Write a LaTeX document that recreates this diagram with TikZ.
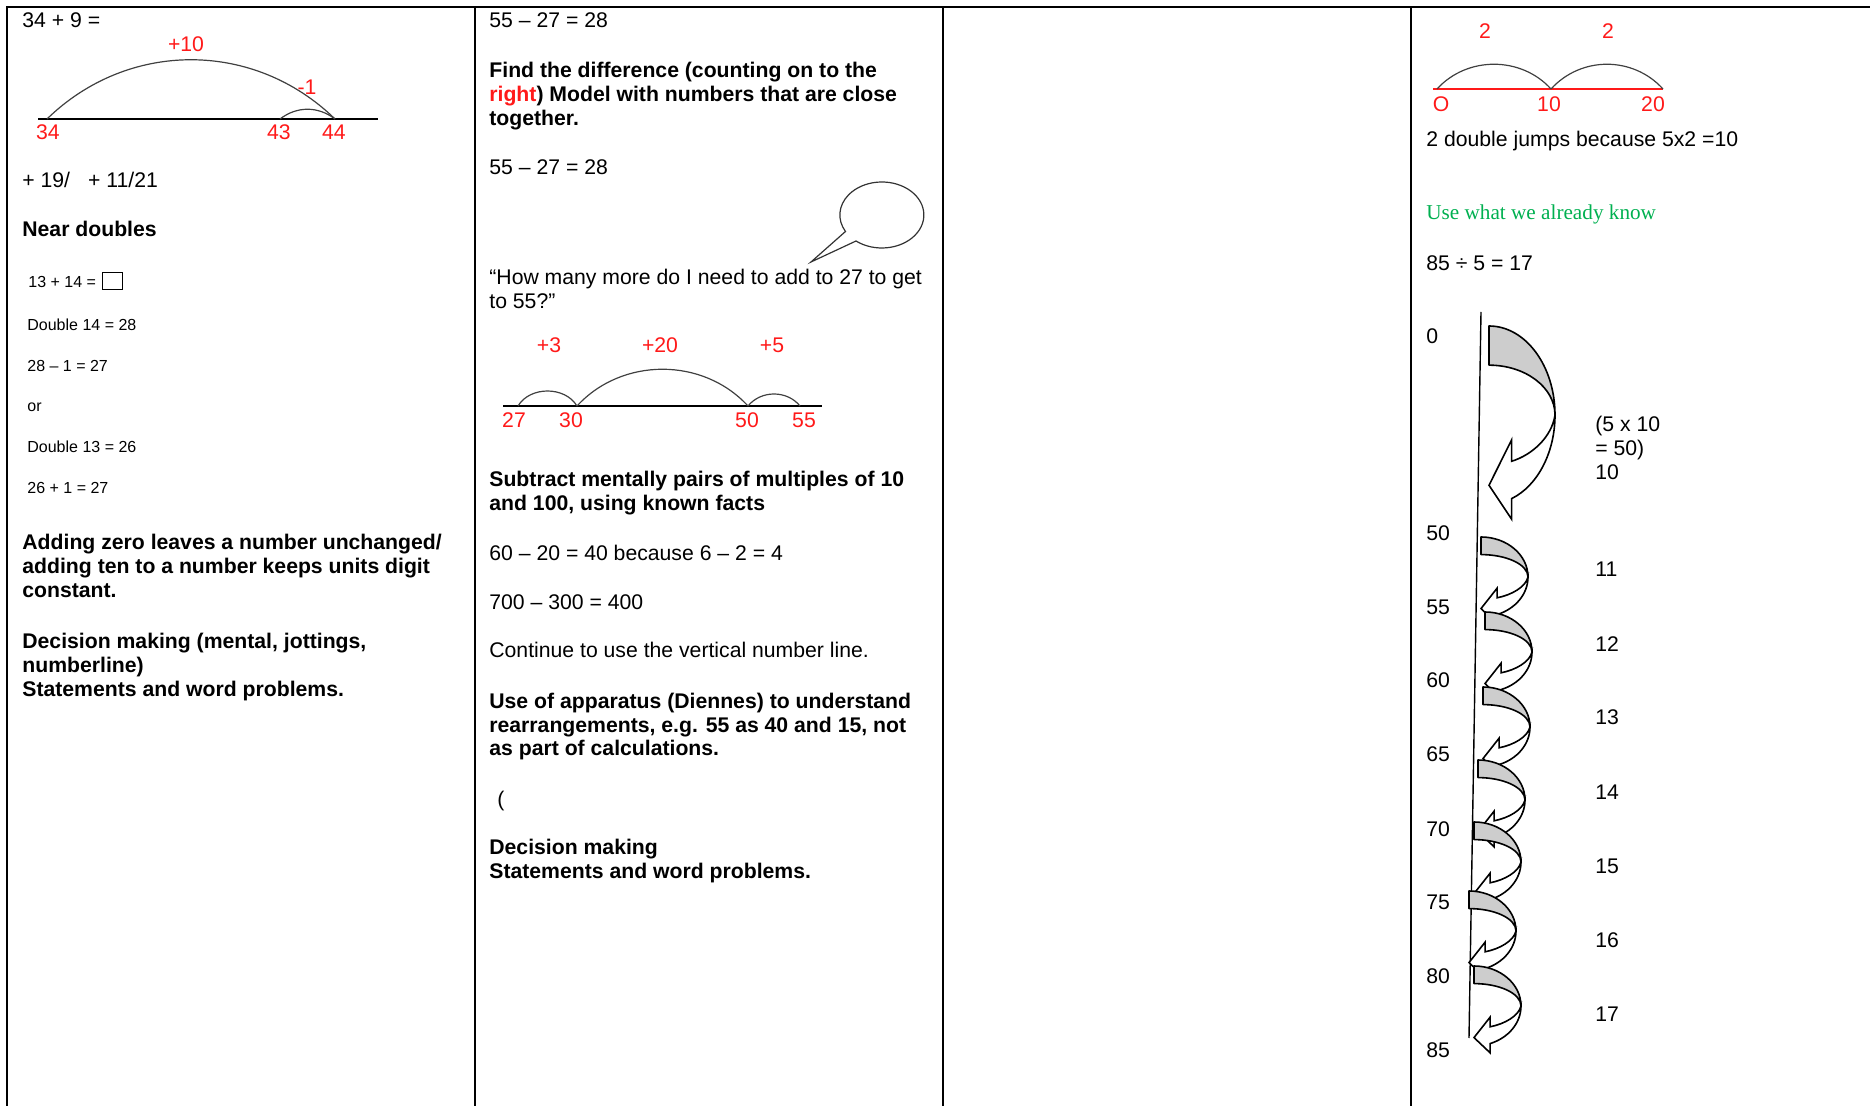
\documentclass[tikz,border=0pt]{standalone}
\usepackage{fontspec}
\setmainfont{Liberation Sans}
\newfontfamily\knowfont{Liberation Serif}
\usetikzlibrary{positioning}

\definecolor{numred}{RGB}{255,25,25}
\definecolor{knowgreen}{RGB}{0,176,80}
\definecolor{backgrey}{RGB}{205,205,205}

\tikzset{
  grid line/.style={line width=1pt},
  body/.style={anchor=base west, inner sep=0pt, align=left},
  small/.style={body, font=\fontsize{8}{9.6}\selectfont},
  strong/.style={body, font=\fontsize{10.6}{12}\selectfont\bfseries},
  num/.style={anchor=base, inner sep=0pt, text=numred},
  jump/.style={line width=0.6pt, black!75},
  numline/.style={line width=0.6pt},
  arrowback/.style={fill=backgrey, draw=black, line width=0.8pt, line join=round},
  arrowfront/.style={fill=white, draw=black, line width=0.8pt},
}

% curved jump arrow: centre x, centre y, x radius, y radius
\newcommand{\jumparrow}[4]{%
  \begin{scope}[shift={(#1,#2)}, xscale=#3, yscale=#4]
    \filldraw[arrowback] (0,-1) arc[start angle=-90, end angle=0, radius=1]
      arc[start angle=0, end angle=-90, x radius=1, y radius=0.56] -- cycle;
    \filldraw[arrowfront] (1,0) arc[start angle=0, end angle=70, radius=1]
      -- (0.342,1.17) -- (0,0.79) -- (0.342,0.28) -- (0.342,0.52)
      .. controls (0.65,0.45) and (0.95,0.25) .. (1,0) -- cycle;
  \end{scope}}

\begin{document}
\begin{tikzpicture}[x=0.5pt, y=-0.5pt, font=\fontsize{10.6}{12}\selectfont]
\useasboundingbox (0,0) rectangle (1870,1106);

% table
\draw[grid line] (7,1106) -- (7,7) -- (1870,7);
\foreach \x in {475,943,1411}
  \draw[grid line] (\x,7) -- (\x,1106);

% column 1 (multi-line nodes sit on their last line)
\node[body] (sum1) at (22,28) {34 + 9 =};
\coordinate (l1a) at (38,119);
\coordinate (l1b) at (378,119);
\coordinate (a34) at (47,119);
\coordinate (a43) at (280,119);
\coordinate (a44) at (335,119);
\draw[numline] (l1a) -- (l1b);
\draw[jump] (a34) .. controls +(81,-79) and +(-81,-79) .. (a44);
\draw[jump] (a43) .. controls +(17,-13) and +(-17,-13) .. (a44);
\node[num] (p10) at (186,52) {+10};
\node[num] (m1) at (307,95) {-1};
\node[num] (t34) at (48,140) {34};
\node[num] (t43) at (279,140) {43};
\node[num] (t44) at (334,140) {44};
\node[body] (part) at (22,188) {+ 19/\hspace{9pt}+ 11/21};
\node[strong] (near) at (22,237) {Near doubles};
\node[small] (q1) at (28,288) {13 + 14 =};
\node[draw, line width=0.6pt, minimum width=10pt, minimum height=8.5pt,
  inner sep=0pt, anchor=south west] (ans) at (102,290) {};
\node[small] (d14) at (27,331) {Double 14 = 28};
\node[small] (s1) at (27,372) {28 – 1 = 27};
\node[small] (or) at (27,412) {or};
\node[small] (d13) at (27,453) {Double 13 = 26};
\node[small] (s2) at (27,494) {26 + 1 = 27};
\node[strong] (zero) at (22,598) {Adding zero leaves a number unchanged/\\adding ten to a number keeps units digit\\constant.};
\node[strong] (dec1) at (22,697) {Decision making (mental, jottings,\\numberline)\\Statements and word problems.};

% column 2
\node[body] (sub1) at (489,28) {55 – 27 = 28};
\node[strong] (diff) at (489,126) {Find the difference (counting on to the\\\textcolor{numred}{right}) Model with numbers that are close\\together.};
\node[body] (sub2) at (489,175) {55 – 27 = 28};
\draw[line width=0.6pt, black!80] (856,241)
  arc[start angle=128, end angle=-210, x radius=42, y radius=33]
  -- (811,262) -- cycle;
\node[body] (ask) at (489,309) {“How many more do I need to add to 27 to get\\to 55?”};
\coordinate (l2a) at (503,406);
\coordinate (l2b) at (822,406);
\coordinate (b27) at (518,406);
\coordinate (b30) at (577,406);
\coordinate (b50) at (748,406);
\coordinate (b55) at (800,406);
\draw[numline] (l2a) -- (l2b);
\draw[jump] (b27) .. controls +(12,-20) and +(-12,-20) .. (b30);
\draw[jump] (b30) .. controls +(45,-49) and +(-45,-49) .. (b50);
\draw[jump] (b50) .. controls +(13,-16) and +(-13,-16) .. (b55);
\node[num] (p3) at (549,353) {+3};
\node[num] (p20) at (660,353) {+20};
\node[num] (p5) at (772,353) {+5};
\node[num] (u27) at (514,428) {27};
\node[num] (u30) at (571,428) {30};
\node[num] (u50) at (747,428) {50};
\node[num] (u55) at (804,428) {55};
\node[strong] (mult) at (489,511) {Subtract mentally pairs of multiples of 10\\and 100, using known facts};
\node[body] (f1) at (489,561) {60 – 20 = 40 because 6 – 2 = 4};
\node[body] (f2) at (489,610) {700 – 300 = 400};
\node[body] (cont) at (489,658) {Continue to use the vertical number line.};
\node[strong] (app) at (489,756) {Use of apparatus (Diennes) to understand\\rearrangements, e.g. 55 as 40 and 15, not\\as part of calculations.};
\node[body] (paren) at (497,806) {(};
\node[strong] (dec2) at (489,878) {Decision making\\Statements and word problems.};

% column 4
\node[num] (j1) at (1485,39) {2};
\node[num] (j2) at (1608,39) {2};
\coordinate (l4a) at (1433,89);
\coordinate (c0) at (1437,89);
\coordinate (c10) at (1551,89);
\coordinate (c20) at (1663,89);
\draw[numred, line width=1pt] (l4a) -- (c20);
\draw[jump] (c0) .. controls +(30,-33) and +(-30,-33) .. (c10);
\draw[jump] (c10) .. controls +(30,-33) and +(-30,-33) .. (c20);
\node[num] (o0) at (1441,112) {O};
\node[num] (o10) at (1549,112) {10};
\node[num] (o20) at (1653,112) {20};
\node[body] (dbl) at (1426,147) {2 double jumps because 5x2 =10};
\node[body, text=knowgreen, font=\knowfont\fontsize{10.6}{12}\selectfont] (know) at (1426,220) {Use what we already know};
\node[body] (div) at (1426,271) {85 ÷ 5 = 17};

\coordinate (vtop) at (1481,312);
\coordinate (vbot) at (1469,1038);
\draw[line width=0.7pt] (vtop) -- (vbot);
\node[body] (v0) at (1426,344) {0};
\foreach \v/\y in {50/541,55/615,60/688,65/762,70/836,75/909,80/983,85/1057}
  \node[body] (v\v) at (1426,\y) {\v};
\node[body] (k10) at (1595,480) {(5 x 10\\= 50)\\10};
\foreach \k/\y in {11/577,12/652,13/725,14/799,15/873,16/947,17/1021}
  \node[body] (k\k) at (1595,\y) {\k};

\jumparrow{1489}{415}{66}{89}
\foreach \cx/\cy in {1481/577,1485/652,1483/727,1478/800,1474/862,1469/931,1474/1006}
  {\jumparrow{\cx}{\cy}{47}{40}}
\end{tikzpicture}
\end{document}
